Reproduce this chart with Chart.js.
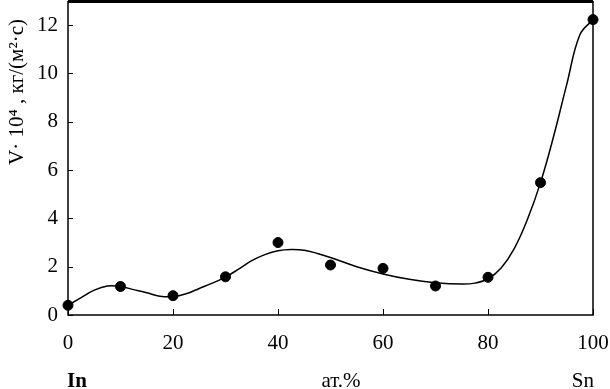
<!DOCTYPE html>
<html>
<head>
<meta charset="utf-8">
<script src="https://cdn.jsdelivr.net/npm/chart.js@4"></script>
<style>
    html, body { margin: 0; padding: 0; background: #fff; }
    #wrap { width: 610px; height: 389px; }
</style>
</head>
<body>
<div id="wrap"><canvas id="chart" width="610" height="389"></canvas></div>
<script>
// measured points
const pointX = [0, 10, 20, 30, 40, 50, 60, 70, 80, 90, 100];
const pointY = [0.4, 1.18, 0.8, 1.58, 3.0, 2.07, 1.93, 1.2, 1.56, 5.48, 12.23];

// fitted curve
const curveX = [0, 2.5, 5, 7.5, 10, 12.5, 15, 17.5, 20, 22.5, 25, 27.5, 30, 32.5, 35, 37.5, 40, 42.5, 45, 47.5, 50, 55, 60, 65, 70, 75, 77.5, 80, 82.5, 85, 87.5, 90, 92.5, 95, 97.5, 100];
const curveY = [0.4, 0.72, 1.03, 1.2, 1.18, 1.05, 0.92, 0.78, 0.76, 0.88, 1.1, 1.32, 1.57, 1.9, 2.25, 2.5, 2.66, 2.71, 2.68, 2.55, 2.38, 2.0, 1.7, 1.48, 1.34, 1.28, 1.32, 1.5, 1.95, 2.75, 3.95, 5.48, 7.4, 9.55, 11.6, 12.23];

const xTicks = [0, 20, 40, 60, 80, 100];
const yTicks = [0, 2, 4, 6, 8, 10, 12];

const FONT = '"Liberation Serif", "Times New Roman", serif';

function toXY(xs, ys) {
    return xs.map((x, i) => ({ x: x, y: ys[i] }));
}

function noPadding(s) {
    s.paddingTop = 0;
    s.paddingBottom = 0;
    s.paddingLeft = 0;
    s.paddingRight = 0;
}

// box around the plot + inward ticks + bottom labels + y title
const framePlugin = {
    id: 'frame',
    afterDraw(chart) {
        const ctx = chart.ctx;
        const a = chart.chartArea;
        const xs = chart.scales.x, ys = chart.scales.y;
        ctx.save();
        ctx.strokeStyle = '#000';
        ctx.lineWidth = 1.5;
        ctx.beginPath();
        ctx.moveTo(a.left, a.top);
        ctx.lineTo(a.left, a.bottom);
        ctx.lineTo(a.right, a.bottom);
        ctx.lineTo(a.right, a.top);
        ctx.stroke();
        ctx.lineWidth = 3;
        ctx.beginPath();
        ctx.moveTo(a.left, a.top + 0.5);
        ctx.lineTo(a.right, a.top + 0.5);
        ctx.stroke();

        ctx.lineWidth = 1;
        xTicks.forEach(v => {
            const px = Math.round(xs.getPixelForValue(v)) + 0.5;
            ctx.beginPath();
            ctx.moveTo(px, a.bottom);
            ctx.lineTo(px, a.bottom - 6);
            ctx.stroke();
        });
        yTicks.forEach(v => {
            const py = Math.round(ys.getPixelForValue(v)) + 0.5;
            ctx.beginPath();
            ctx.moveTo(a.left, py);
            ctx.lineTo(a.left + 5, py);
            ctx.stroke();
        });

        ctx.fillStyle = '#000';
        ctx.textBaseline = 'alphabetic';
        ctx.font = 'bold 21px ' + FONT;
        ctx.textAlign = 'left';
        ctx.fillText('In', 67, 387);
        ctx.font = '21px ' + FONT;
        ctx.textAlign = 'center';
        ctx.fillText('ат.%', 341, 387);
        ctx.textAlign = 'right';
        ctx.fillText('Sn', 594, 387);

        ctx.translate(17, 92);
        ctx.rotate(-Math.PI / 2);
        ctx.textAlign = 'center';
        ctx.textBaseline = 'middle';
        ctx.font = '21px ' + FONT;
        ctx.fillText('V· 10⁴ , кг/(м²·с)', 0, 0);
        ctx.restore();
    }
};

new Chart(document.getElementById('chart').getContext('2d'), {
    type: 'scatter',
    plugins: [framePlugin],
    data: {
        datasets: [
            {
                type: 'line',
                data: toXY(curveX, curveY),
                borderColor: '#000',
                borderWidth: 1.5,
                pointRadius: 0,
                tension: 0.4,
                fill: false
            },
            {
                data: toXY(pointX, pointY),
                backgroundColor: '#000',
                borderColor: '#000',
                pointRadius: 5,
                showLine: false,
                clip: false
            }
        ]
    },
    options: {
        responsive: false,
        animation: false,
        layout: { autoPadding: false, padding: { left: 0, right: 17, top: 1, bottom: 0 } },
        plugins: { legend: { display: false }, tooltip: { enabled: false } },
        scales: {
            x: {
                type: 'linear',
                min: 0,
                max: 100,
                afterFit(s) { s.height = 74; noPadding(s); },
                afterBuildTicks(s) { s.ticks = xTicks.map(v => ({ value: v })); },
                grid: { display: false, drawTicks: false },
                border: { display: false },
                ticks: { color: '#000', padding: 16, maxRotation: 0, font: { family: FONT, size: 21 } }
            },
            y: {
                min: 0,
                max: 13,
                afterFit(s) { s.width = 68; noPadding(s); },
                afterBuildTicks(s) { s.ticks = yTicks.map(v => ({ value: v })); },
                grid: { display: false, drawTicks: false },
                border: { display: false },
                ticks: { color: '#000', padding: 10, font: { family: FONT, size: 21 } }
            }
        }
    }
});
</script>
</body>
</html>
